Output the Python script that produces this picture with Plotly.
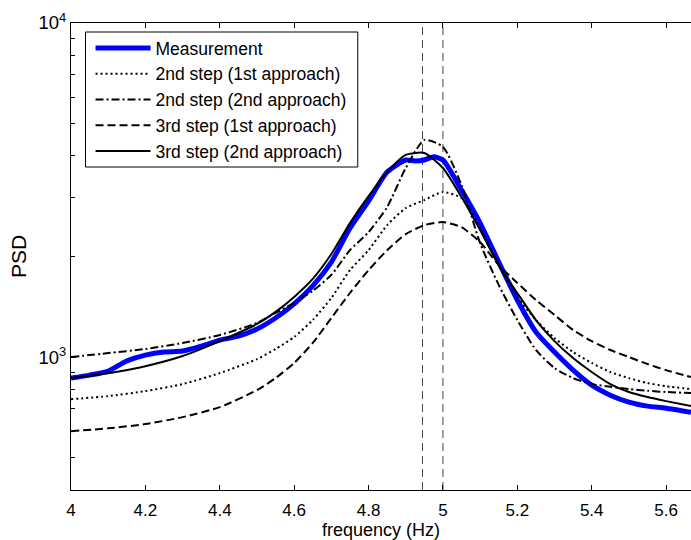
import plotly.graph_objects as go
import numpy as np

freq = [4.0, 4.1, 4.2, 4.3, 4.4, 4.5, 4.55, 4.6, 4.65, 4.7, 4.75, 4.8, 4.85, 4.9,
        4.95, 5.0, 5.05, 5.1, 5.15, 5.2, 5.25, 5.3, 5.35, 5.4, 5.45, 5.5, 5.55, 5.6, 5.667]

meas_freq = [4.0, 4.05, 4.1, 4.15, 4.2, 4.25, 4.3, 4.35, 4.4, 4.45, 4.5, 4.55, 4.6, 4.65,
             4.7, 4.75, 4.8, 4.85, 4.9, 4.925, 4.95, 4.975, 5.0, 5.05, 5.1, 5.15, 5.2,
             5.25, 5.3, 5.35, 5.4, 5.45, 5.5, 5.55, 5.6, 5.667]
measurement = [865, 883, 908, 973, 1013, 1035, 1042, 1078, 1124, 1155, 1213, 1309, 1442, 1633,
               1925, 2431, 2931, 3579, 3890, 3865, 3890, 3975, 3890, 3162, 2518, 1925, 1482,
               1189, 1035, 914, 824, 769, 733, 713, 703, 684]

step2_app1 = [748, 764, 791, 830, 895, 986, 1057, 1148, 1291, 1503, 1820, 2089, 2483, 2793,
              2951, 3119, 2992, 2431, 1884, 1513, 1291, 1140, 1035, 960, 902, 865, 836, 818, 802]

step2_app2 = [1000, 1028, 1057, 1102, 1164, 1265, 1355, 1452, 1578, 1762, 2089, 2366, 2812, 3680,
              4467, 4257, 3273, 2193, 1644, 1291, 1050, 927, 865, 830, 815, 802, 793, 786, 780]

step3_app1 = [600, 612, 630, 661, 708, 796, 865, 960, 1102, 1309, 1555, 1820, 2089, 2333,
              2483, 2535, 2448, 2208, 1884, 1667, 1482, 1337, 1205, 1116, 1050, 1000, 953, 914, 871]

step3_app2 = [865, 895, 939, 1007, 1116, 1256, 1365, 1514, 1714, 2034, 2518, 3034, 3579, 4027,
              4083, 3680, 3013, 2399, 1884, 1555, 1291, 1116, 993, 902, 830, 786, 759, 738, 713]

marker_freqs = [4.945, 5.0]

x_ticks = [4.0, 4.2, 4.4, 4.6, 4.8, 5.0, 5.2, 5.4, 5.6]
x_ticklabels = ["4", "4.2", "4.4", "4.6", "4.8", "5", "5.2", "5.4", "5.6"]
y_ticks = [1000, 10000]
y_ticklabels = ["10<sup>3</sup>", "10<sup>4</sup>"]
y_minor = [400, 500, 600, 700, 800, 900, 2000, 3000, 4000, 5000, 6000, 7000, 8000, 9000]

FONT = "Liberation Sans, Arial, sans-serif"

fig = go.Figure()
fig.add_trace(go.Scatter(x=meas_freq, y=measurement, mode="lines", name="Measurement",
                         line=dict(color="#0000ff", width=5, shape="spline", smoothing=0.6)))
fig.add_trace(go.Scatter(x=freq, y=step2_app1, mode="lines", name="2nd step (1st approach)",
                         line=dict(color="black", width=2, dash="2px,3px", shape="spline", smoothing=0.6)))
fig.add_trace(go.Scatter(x=freq, y=step2_app2, mode="lines", name="2nd step (2nd approach)",
                         line=dict(color="black", width=2, dash="8px,3px,2px,3px", shape="spline", smoothing=0.6)))
fig.add_trace(go.Scatter(x=freq, y=step3_app1, mode="lines", name="3rd step (1st approach)",
                         line=dict(color="black", width=2, dash="8px,4px", shape="spline", smoothing=0.6)))
fig.add_trace(go.Scatter(x=freq, y=step3_app2, mode="lines", name="3rd step (2nd approach)",
                         line=dict(color="black", width=2, shape="spline", smoothing=0.6)))

for f in marker_freqs:
    fig.add_shape(type="line", xref="x", yref="paper", x0=f, x1=f, y0=0, y1=1,
                  line=dict(color="#444444", width=1, dash="8px,5px"), layer="below")

# legend frame
fig.add_shape(type="rect", xref="paper", yref="paper", x0=0.0234, x1=0.4625, y0=0.6916, y1=0.9807,
              line=dict(color="black", width=1), fillcolor="white", layer="above")

fig.update_layout(
    width=691, height=540,
    margin=dict(l=71, r=0, t=23, b=50),
    paper_bgcolor="white", plot_bgcolor="white",
    font=dict(family=FONT, size=17.5, color="black"),
    showlegend=True,
    legend=dict(x=0.0315, y=0.985, xanchor="left", yanchor="top",
                bgcolor="rgba(0,0,0,0)", borderwidth=0,
                font=dict(family=FONT, size=17.5, color="black"),
                itemwidth=55, tracegroupgap=0),
    xaxis=dict(range=[4.0, 5.667], tickvals=x_ticks, ticktext=x_ticklabels,
               ticks="inside", ticklen=5, tickcolor="black", showline=True,
               linecolor="black", linewidth=1, mirror="ticks", showgrid=False,
               zeroline=False,
               title=dict(text="frequency (Hz)", standoff=7, font=dict(size=18)),
               ticklabelstandoff=5, tickfont=dict(size=17)),
    yaxis=dict(type="log", range=[np.log10(400), 4], tickvals=y_ticks, ticktext=y_ticklabels,
               ticks="inside", ticklen=5, tickcolor="black", showline=True,
               linecolor="black", linewidth=1, mirror=False, showgrid=False,
               zeroline=False, title=dict(text="PSD", standoff=6),
               tickfont=dict(size=18.5),
               minor=dict(tickvals=y_minor, ticks="inside", ticklen=4, tickcolor="black")),
)

fig.write_html("out.html")
